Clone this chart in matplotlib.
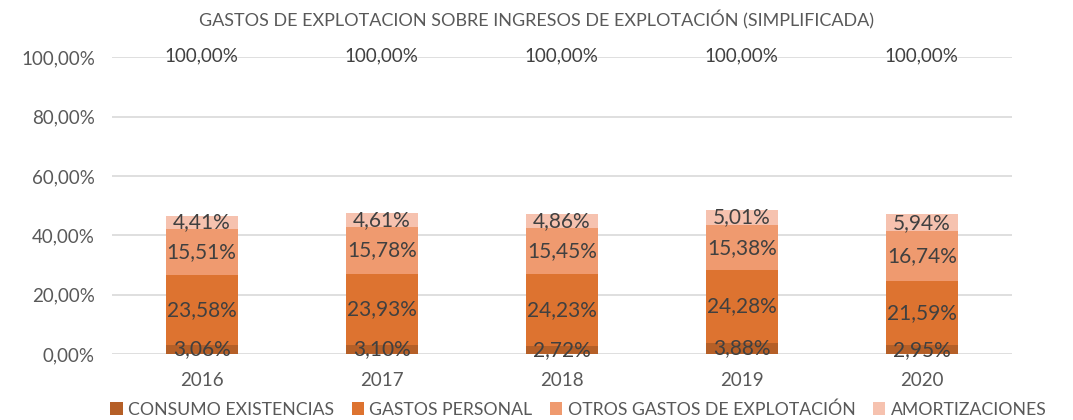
"""Stacked bar chart: operating expenses over operating income (simplified)."""

import matplotlib
matplotlib.use("Agg")
import matplotlib.pyplot as plt
from matplotlib.patches import Patch

YEARS = ["2016", "2017", "2018", "2019", "2020"]
CONSUMO = [3.06, 3.10, 2.72, 3.88, 2.95]
PERSONAL = [23.58, 23.93, 24.23, 24.28, 21.59]
OTROS = [15.51, 15.78, 15.45, 15.38, 16.74]
AMORT = [4.41, 4.61, 4.86, 5.01, 5.94]
INGRESOS = [100.0, 100.0, 100.0, 100.0, 100.0]

SERIES_NAMES = ["CONSUMO EXISTENCIAS", "GASTOS PERSONAL",
                "OTROS GASTOS DE EXPLOTACIÓN", "AMORTIZACIONES"]
COLORS = ["#B55F27", "#DD7330", "#EF9A6F", "#F6C2AF"]
LABEL_COLOR = "#404040"
AXIS_TEXT_COLOR = "#595959"
GRID_COLOR = "#D9D9D9"

plt.rcParams["font.family"] = ["Lato", "DejaVu Sans"]


def pct(v):
    return f"{v:.2f}%".replace(".", ",")


fig = plt.figure(figsize=(10.73, 4.2), dpi=100)
ax = fig.add_axes([0.104, 0.157, 0.839, 0.707])

x = list(range(len(YEARS)))
bottom = [0.0] * len(YEARS)
for name, vals, color in zip(SERIES_NAMES, [CONSUMO, PERSONAL, OTROS, AMORT], COLORS):
    bars = ax.bar(x, vals, width=0.4, bottom=bottom, color=color, label=name, zorder=2)
    ax.bar_label(bars, labels=[pct(v) for v in vals], label_type="center",
                 color=LABEL_COLOR, fontsize=15, zorder=3)
    bottom = [b + v for b, v in zip(bottom, vals)]

for xi, v in zip(x, INGRESOS):
    ax.text(xi, v + 0.5, pct(v), ha="center", va="center", color=LABEL_COLOR, fontsize=13.5)

ax.set_xlim(-0.5, len(YEARS) - 0.5)
ax.set_ylim(0, 100)
ax.set_yticks([0, 20, 40, 60, 80, 100])
ax.set_yticklabels([pct(t) for t in [0, 20, 40, 60, 80, 100]])
ax.set_xticks(x)
ax.set_xticklabels(YEARS)
ax.tick_params(axis="both", length=0, colors=AXIS_TEXT_COLOR, labelsize=13.5)
ax.tick_params(axis="y", pad=12)
ax.tick_params(axis="x", pad=13)
ax.grid(axis="y", color=GRID_COLOR, linewidth=1.2, zorder=0)
for side in ["top", "right", "left", "bottom"]:
    ax.spines[side].set_visible(False)

fig.text(0.5, 0.953, "GASTOS DE EXPLOTACION SOBRE INGRESOS DE EXPLOTACIÓN (SIMPLIFICADA)",
         ha="center", va="center", color=AXIS_TEXT_COLOR, fontsize=13)

handles = [Patch(facecolor=c, edgecolor="none") for c in COLORS]
fig.legend(handles, SERIES_NAMES, loc="center", bbox_to_anchor=(0.539, 0.025),
           ncol=4, frameon=False, fontsize=12.7, labelcolor=AXIS_TEXT_COLOR,
           handlelength=0.7, handleheight=0.7, handletextpad=0.3, columnspacing=1.0)

fig.savefig("out.png", dpi=100)
